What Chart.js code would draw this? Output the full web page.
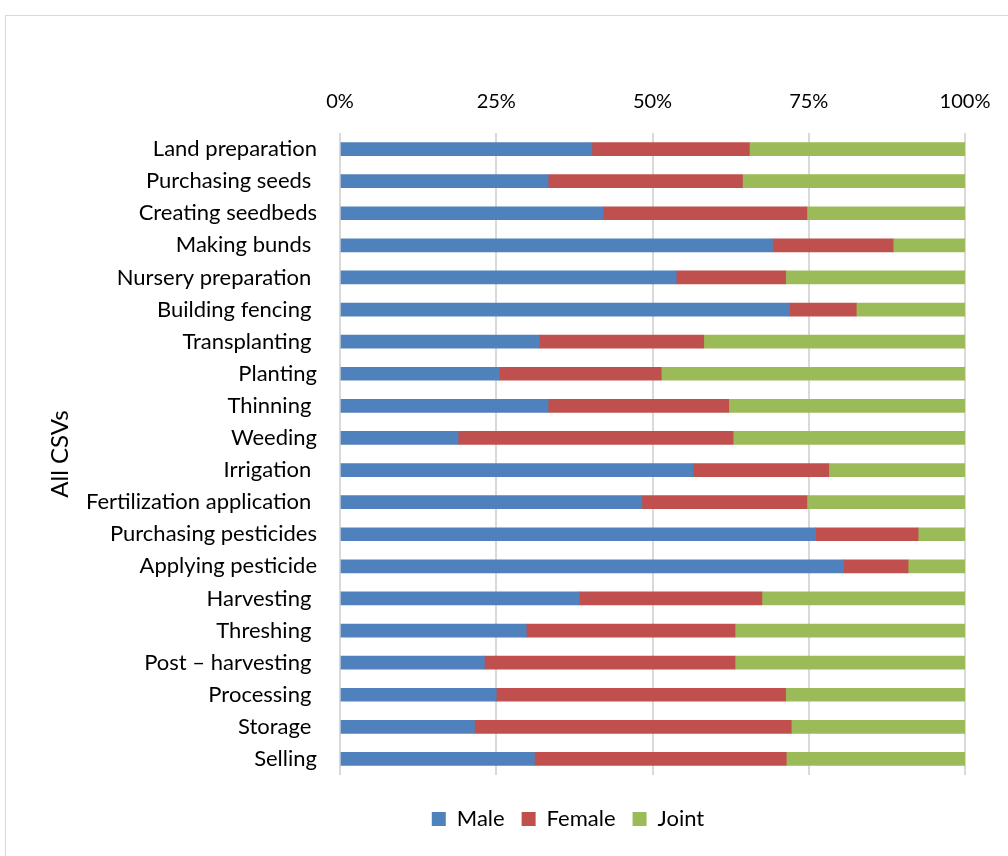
<!DOCTYPE html>
<html>
<head>
<meta charset="utf-8">
<title>All CSVs</title>
<script src="https://cdn.jsdelivr.net/npm/chart.js@4.4.1/dist/chart.umd.min.js"></script>
<style>
  html, body { margin: 0; padding: 0; background: #fff; overflow: hidden; }
  #frame {
    position: absolute;
    left: 5px;
    top: 15px;
    width: 1124px;
    height: 860px;
    border: 1px solid #d9d9d9;
    background: #fff;
  }
</style>
</head>
<body>
<div id="frame"><canvas id="taskChart"></canvas></div>
<script>
const activities = [
  "Land preparation", "Purchasing seeds ", "Creating seedbeds", "Making bunds ",
  "Nursery preparation ", "Building fencing ", "Transplanting ", "Planting",
  "Thinning ", "Weeding", "Irrigation ", "Fertilization application ",
  "Purchasing pesticides", "Applying pesticide", "Harvesting ", "Threshing ",
  "Post – harvesting ", "Processing ", "Storage ", "Selling"
];

// shares in percent, each row adds up to 100
const male = [40.3, 33.3, 42.1, 69.2, 53.8, 71.9, 31.9, 25.5, 33.3, 18.9,
              56.5, 48.3, 76.1, 80.6, 38.3, 29.8, 23.1, 25.0, 21.5, 31.1];
const female = [25.2, 31.1, 32.6, 19.3, 17.5, 10.7, 26.3, 25.9, 28.9, 44.0,
                21.7, 26.4, 16.4, 10.3, 29.2, 33.4, 40.1, 46.3, 50.7, 40.3];
const joint = [34.5, 35.6, 25.3, 11.5, 28.7, 17.4, 41.8, 48.6, 37.8, 37.1,
               21.8, 25.3, 7.5, 9.1, 32.5, 36.8, 36.8, 28.7, 27.8, 28.6];

const xTicks = [0, 25, 50, 75, 100];

const fontFamily = "Lato, 'Open Sans', sans-serif";

// the legend is centred on the whole frame, not just the plot, and sits a bit lower
const legendPlacement = {
  id: "legendPlacement",
  afterLayout(chart) {
    const lg = chart.legend;
    if (!lg) return;
    lg.left = 0;
    lg.right = chart.width;
    lg.top += 16;
    lg.bottom += 16;
  }
};

function initChart() {
  const canvas = document.getElementById("taskChart");
  if (!canvas || !window.Chart) return;

  const bar = (label, data, color) => ({
    label,
    data,
    backgroundColor: color,
    borderWidth: 0,
    barThickness: 13
  });

  new Chart(canvas, {
    type: "bar",
    data: {
      labels: activities,
      datasets: [
        bar("Male", male, "#4f81bd"),
        bar("Female", female, "#c0504d"),
        bar("Joint", joint, "#9bbb59")
      ]
    },
    plugins: [legendPlacement],
    options: {
      indexAxis: "y",
      responsive: true,
      maintainAspectRatio: false,
      animation: false,
      layout: { padding: { left: 0, top: 0, right: 165, bottom: 52 } },
      scales: {
        x: {
          position: "top",
          stacked: true,
          min: 0,
          max: 100,
          afterFit: scale => { scale.height = 117; },
          afterBuildTicks: scale => {
            scale.ticks = xTicks.map(v => ({ value: v }));
          },
          grid: { color: "#d9d9d9", lineWidth: 2, drawTicks: false },
          border: { display: false },
          ticks: {
            padding: 19,
            color: "#000",
            font: { family: fontFamily, size: 20 },
            callback: v => v + "%"
          }
        },
        y: {
          stacked: true,
          afterFit: scale => { scale.width = 334; },
          grid: { display: false, drawTicks: false },
          border: { display: false },
          ticks: {
            padding: 23,
            color: "#000",
            autoSkip: false,
            font: { family: fontFamily, size: 22 }
          },
          title: {
            display: true,
            text: "All CSVs",
            color: "#000",
            font: { family: fontFamily, size: 24 },
            padding: { top: 40, bottom: 0 }
          }
        }
      },
      plugins: {
        tooltip: { enabled: false },
        legend: {
          position: "bottom",
          labels: {
            boxWidth: 14,
            boxHeight: 14,
            padding: 17,
            color: "#000",
            font: { family: fontFamily, size: 22 }
          }
        }
      }
    }
  });
}

document.addEventListener("DOMContentLoaded", initChart);
</script>
</body>
</html>
